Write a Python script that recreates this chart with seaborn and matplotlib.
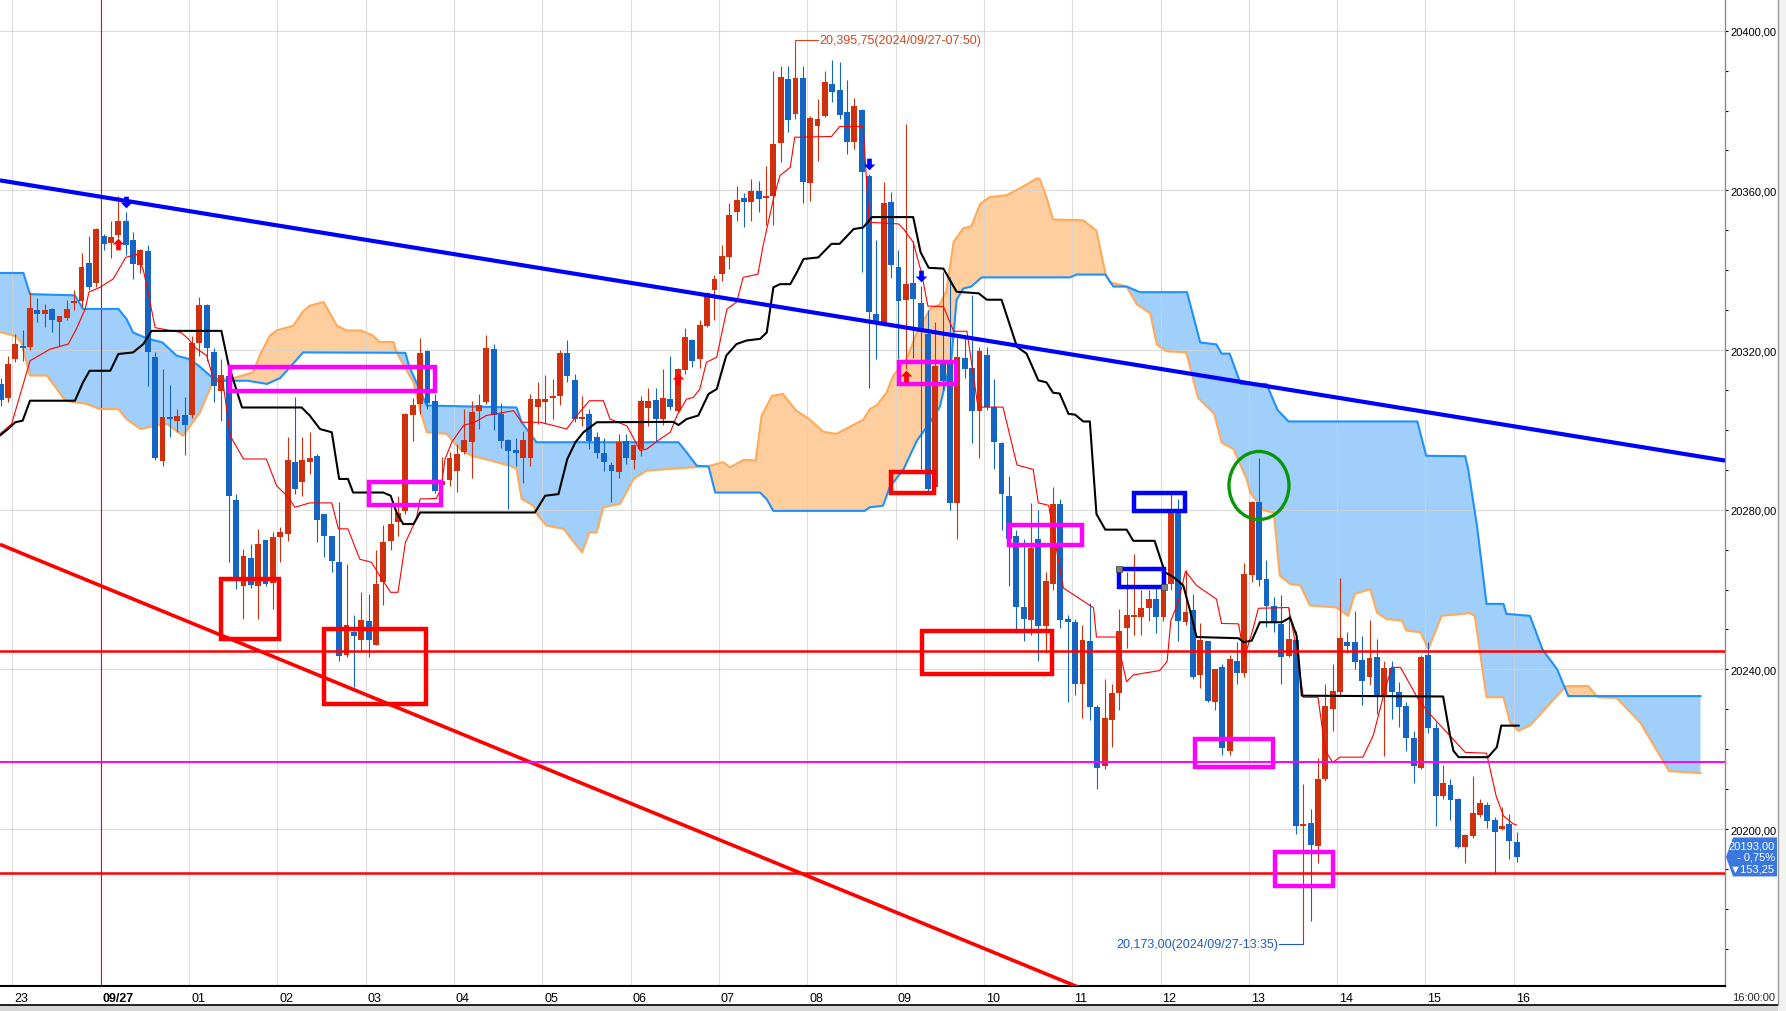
import numpy as np
import matplotlib
matplotlib.use("Agg")
import matplotlib.pyplot as plt
import matplotlib.transforms as mtransforms
from matplotlib.patches import Polygon, Rectangle, Ellipse
from matplotlib.path import Path
import seaborn as sns

# ─────────────────────────────────────────────
# DATA  (5-minute candles, index 0 = 23:00, first candle = index -2)
# ─────────────────────────────────────────────
FIRST_K = -2
OPEN = [
    20311.5, 20308, 20317.7, 20321, 20320.8, 20330, 20329, 20330.3, 20327.1, 20328, 20331.8, 20332.4,
    20341.8, 20336.8, 20348.5, 20346.8, 20348.8, 20352.4, 20347.6, 20341.4, 20344.9, 20318.2,
    20292.3, 20303.2, 20302.1, 20303.6, 20303.7, 20321.8, 20331.3, 20319.4, 20309.8, 20313.6,
    20282.4, 20261, 20267.9, 20261, 20272.3, 20261.6, 20273.2, 20273.9, 20291.9, 20286.9,
    20292, 20293.5, 20278.9, 20273.3, 20266.8, 20243.6, 20249.4, 20247.4, 20252.1, 20246.2,
    20261.8, 20272.2, 20276.8, 20279.7, 20303.6, 20306.5, 20319.7, 20307.3, 20286.2, 20287.5,
    20289.8, 20294.4, 20296.9, 20304.8, 20307.1, 20320.3, 20304, 20297.5, 20295, 20292.9,
    20292.9, 20305.6, 20307.1, 20307.9, 20308.6, 20319.3, 20312.5, 20302.6, 20304, 20298.1,
    20294.2, 20291.3, 20289.5, 20297.1, 20292.5, 20295.2, 20305.4, 20307.5, 20302.6, 20307.7,
    20304.8, 20315.1, 20322.5, 20317.7, 20326.1, 20335.1, 20339.1, 20343.2, 20354.5, 20358,
    20357.2, 20359.9, 20358.2, 20358.5, 20371.8, 20387.9, 20379.1, 20388.1, 20361.9, 20376,
    20378.7, 20386.6, 20385.2, 20379.7, 20372, 20380.2, 20363.7, 20329, 20326.5, 20357,
    20340.7, 20332.6, 20336.9, 20331.9, 20324, 20285.6, 20316.9, 20317.5, 20281.7, 20318,
    20315.5, 20304.8, 20318.8, 20305.7, 20296.8, 20283.4, 20273.3, 20255.6, 20252.3, 20272.7,
    20250.9, 20261.5, 20281.3, 20252.6, 20251.8, 20236.4, 20247, 20230.6, 20215.7, 20227.2,
    20234.1, 20250.4, 20253, 20253, 20255.4, 20257.6, 20253, 20261.5, 20279.4, 20251.8,
    20254.8, 20238.6, 20247, 20231.9, 20240.6, 20219.6, 20242.2, 20239.1, 20263.6, 20282,
    20262.6, 20255.9, 20251.4, 20243.4, 20247.3, 20200.8, 20201.5, 20195.7, 20212.5, 20230.1,
    20234.4, 20246.9, 20246.9, 20242.3, 20238, 20243, 20233.4, 20240.3, 20234.4, 20230.7,
    20222.9, 20215.4, 20243.6, 20225.2, 20208.2, 20211, 20207.5, 20195.4, 20198.2, 20203.6,
    20206, 20202.3, 20200, 20201.3, 20196.7,
]
HIGH = [
    20313, 20318.5, 20324, 20325, 20334.5, 20333, 20331.5, 20330.5, 20328.6, 20332.6, 20335, 20344.3,
    20348.6, 20350.5, 20349.1, 20352.2, 20358.7, 20354.7, 20349.5, 20345.3, 20346.3, 20319.5,
    20315.3, 20311.2, 20305.2, 20308.2, 20323.6, 20333.4, 20331.5, 20320.4, 20317.8, 20314,
    20284, 20270.2, 20271.4, 20275.2, 20272.5, 20274.5, 20275.6, 20298.1, 20308.2, 20298.1,
    20299.4, 20294, 20279, 20273.5, 20282, 20266.4, 20253.6, 20259.5, 20258.9, 20269.9,
    20276.2, 20281.2, 20283.5, 20304.3, 20308.1, 20322.9, 20320, 20309, 20293.1, 20294.4,
    20296.4, 20305.2, 20307.3, 20309, 20323.8, 20321.5, 20306.7, 20297.8, 20297.9, 20299.8,
    20309, 20311.9, 20313.7, 20312.7, 20320.1, 20322.5, 20314, 20308.6, 20305.2, 20299.4,
    20298, 20292, 20299, 20299, 20296.5, 20308.4, 20310.6, 20310.6, 20315.2, 20318.6,
    20315.5, 20325.4, 20322.8, 20327.4, 20334.6, 20338.8, 20346.3, 20356.8, 20361.2, 20359.3,
    20362.8, 20362.4, 20366.2, 20390, 20391.2, 20391.2, 20395.75, 20391.2, 20378.7, 20382.9,
    20390, 20392.7, 20392.2, 20387.7, 20383.1, 20380.5, 20364, 20347.6, 20362, 20359.5,
    20345.1, 20376.6, 20347.4, 20336, 20330, 20327, 20339.5, 20338.2, 20323.6, 20323.8,
    20333.7, 20320.8, 20320.8, 20312.7, 20297, 20288.4, 20275, 20272.7, 20281.7, 20280,
    20264.3, 20285.8, 20282.8, 20253.7, 20252.6, 20251.1, 20256.5, 20231, 20237.5, 20236.4,
    20255.2, 20264.3, 20268.8, 20259.9, 20259.9, 20261, 20262.7, 20283.9, 20282.8, 20264.9,
    20259, 20251.5, 20247.2, 20240.2, 20241.4, 20243.6, 20246.9, 20266.6, 20282.3, 20292.9,
    20267.4, 20258, 20258.6, 20255.3, 20249.7, 20211.3, 20205, 20217.7, 20236.3, 20241.3,
    20263, 20249.4, 20254.7, 20248.4, 20252.4, 20247.6, 20242.2, 20242.2, 20236.9, 20231.7,
    20224.6, 20243.6, 20246.9, 20226.7, 20216, 20212.5, 20207.8, 20198.8, 20213.2, 20207.5,
    20206.7, 20202.9, 20205.4, 20203.8, 20199.2,
]
LOW = [
    20306, 20307, 20317, 20317.3, 20320, 20327, 20325.7, 20324.6, 20321.1, 20327.5, 20330, 20330.7,
    20335, 20335.7, 20345, 20343, 20348, 20343.8, 20337.8, 20339.2, 20310.9, 20292.5,
    20290.9, 20298.3, 20299.4, 20293.7, 20303, 20318.6, 20317.3, 20307.1, 20302.3, 20267,
    20260.1, 20252.6, 20260.5, 20252.6, 20261, 20255.1, 20266.8, 20272.2, 20284, 20283.5,
    20289, 20271.8, 20268.2, 20264.3, 20242.2, 20243, 20235.5, 20244.7, 20243, 20246,
    20256.1, 20270, 20273.5, 20279, 20297.3, 20304, 20305.2, 20284.1, 20285.5, 20286,
    20284.5, 20294, 20287.9, 20300.2, 20306.5, 20300, 20295.4, 20280.2, 20291, 20286.7,
    20291, 20301.4, 20301.4, 20302.7, 20306.2, 20312, 20302, 20301, 20295.2, 20293,
    20289.8, 20281.8, 20288, 20291.5, 20290.2, 20293.5, 20301, 20297.3, 20301.1, 20305,
    20304.5, 20314, 20315.7, 20315.4, 20325.8, 20327.4, 20337.4, 20340.3, 20352.2, 20350.7,
    20352.4, 20354.7, 20351.2, 20351.2, 20367.2, 20374.5, 20378, 20356.8, 20357.4, 20367.4,
    20378.5, 20382.1, 20378, 20369.1, 20370.4, 20339.5, 20310.6, 20317.7, 20326, 20338,
    20317.7, 20315.2, 20318, 20290.2, 20284, 20284, 20310, 20280, 20272.7, 20313,
    20296.8, 20292.9, 20305, 20290.3, 20275, 20261, 20249.2, 20247, 20248.7, 20242.2,
    20244.2, 20260, 20250.4, 20231.9, 20233.6, 20227.7, 20227.4, 20210.1, 20215, 20220.5,
    20229.7, 20245.3, 20248.7, 20248.7, 20252, 20249.2, 20252, 20260, 20247, 20251,
    20237.5, 20235.3, 20231.7, 20229.7, 20218.5, 20218.5, 20236.3, 20238, 20261.8, 20261,
    20250.5, 20249.4, 20236.3, 20243, 20198.7, 20173, 20177, 20191.6, 20212, 20224.6,
    20233, 20244, 20240, 20231.1, 20236, 20228.8, 20218.4, 20227.6, 20225.5, 20219.6,
    20211.5, 20215, 20224, 20200.8, 20207.5, 20202.3, 20195.2, 20191.5, 20197.8, 20203,
    20200.2, 20189, 20199.8, 20192.5, 20191.8,
]
CLOSE = [
    20307.5, 20316.5, 20321.5, 20320.5, 20330.5, 20329, 20330, 20327.4, 20328.4, 20330.3, 20332.2, 20340.7,
    20335.7, 20350.2, 20346.6, 20348.2, 20352.4, 20346.4, 20341.6, 20345.1, 20319.6, 20292.9,
    20303.2, 20302.7, 20303.4, 20301.2, 20321.7, 20331.3, 20320.5, 20310.9, 20313.8, 20283.5,
    20263.1, 20268.5, 20261.1, 20271.4, 20261.4, 20273.1, 20274.3, 20292.5, 20285.2, 20292.5,
    20293, 20277.5, 20273.5, 20267.1, 20243.4, 20251.1, 20248.4, 20252.4, 20247.4, 20261.4,
    20271.8, 20276.4, 20279.1, 20304, 20306.2, 20319.3, 20306.7, 20284.8, 20287.3, 20292.9,
    20293.9, 20297.5, 20304.4, 20306.2, 20320.4, 20303.7, 20297.3, 20294.8, 20294.1, 20297.5,
    20307.7, 20307.7, 20307.7, 20308.4, 20319.3, 20313.6, 20302.6, 20303.3, 20297.3, 20294.2,
    20291.9, 20289.8, 20296.9, 20292.9, 20296.2, 20307.3, 20307.3, 20302.7, 20308.1, 20305.8,
    20315.2, 20323.3, 20317.3, 20326.3, 20334.4, 20337.9, 20343.5, 20353.8, 20357.6, 20357,
    20359.9, 20357.8, 20358.7, 20371.6, 20388.3, 20377.7, 20388.1, 20362.2, 20378.1, 20377.9,
    20387.2, 20384.6, 20378.9, 20372, 20381.2, 20364.7, 20329.4, 20326.9, 20356.8, 20341.3,
    20332.4, 20336.5, 20332.9, 20324.4, 20285.2, 20316, 20312.2, 20281.7, 20318.3, 20315.2,
    20304.6, 20319.7, 20305.7, 20297, 20283.9, 20272.7, 20255.6, 20252.6, 20270.5, 20250.9,
    20262.1, 20281.3, 20252.3, 20251.8, 20236.4, 20247.3, 20230.6, 20215.3, 20227.7, 20234.1,
    20249.6, 20253.7, 20253.7, 20255.4, 20257.6, 20253, 20261.5, 20279.4, 20252, 20254.3,
    20238.1, 20247.3, 20232.1, 20240, 20220.2, 20242.6, 20239.2, 20263.9, 20282, 20262.5,
    20255.9, 20251.6, 20243.2, 20247.6, 20200.7, 20201.2, 20196, 20212.5, 20230.9, 20234.7,
    20247.8, 20245.9, 20241.9, 20237.2, 20242.8, 20233.4, 20240.3, 20234.2, 20230.5, 20222.9,
    20215.7, 20243, 20225.2, 20208.2, 20211.5, 20207.3, 20195.4, 20198.5, 20204, 20206.5,
    20202.1, 20199.3, 20200.8, 20197.1, 20193,
]

HOUR_LABELS = ["23", "09/27", "01", "02", "03", "04", "05", "06", "07", "08",
               "09", "10", "11", "12", "13", "14", "15", "16"]

# ichimoku lines: (candle index, price)
TENKAN = [(-2.08, 20299.0), (-0.5, 20301.5), (2.0, 20317.3), (4.7, 20320.2), (7.2, 20321.5), (8.3, 20325.3),
          (9.5, 20330.3), (10.0, 20334.5), (11.5, 20335.7), (13.3, 20337.8), (15.0, 20343.2), (16.5, 20344.0),
          (17.4, 20340.0), (18.0, 20334.8), (19.0, 20325.6), (22.5, 20324.4), (23.5, 20322.8), (24.5, 20320.5),
          (26.0, 20318.6), (27.0, 20312.2), (28.2, 20312.2), (29.2, 20298.5), (31.0, 20292.7), (34.1, 20292.7),
          (35.5, 20286.0), (37.0, 20283.3), (38.0, 20280.6), (40.0, 20281.7), (43.0, 20281.7), (43.9, 20275.2),
          (45.2, 20275.2), (46.8, 20267.6), (48.4, 20266.8), (49.5, 20263.5), (51.0, 20259.3), (52.0, 20259.3),
          (53.0, 20271.8), (54.5, 20277.7), (55.0, 20282.7), (57.2, 20282.8), (57.8, 20285.0), (58.4, 20292.7),
          (59.3, 20296.9), (60.9, 20301.1), (62.5, 20302.0), (64.0, 20303.6), (67.7, 20304.8), (68.8, 20301.9),
          (71.3, 20301.9), (73.1, 20301.1), (74.9, 20300.2), (76.3, 20303.6), (78.0, 20307.3), (79.9, 20307.3),
          (80.8, 20302.7), (83.1, 20301.0), (84.9, 20294.8), (85.8, 20295.2), (87.6, 20297.7), (89.0, 20299.4),
          (89.9, 20303.6), (91.2, 20307.7), (92.1, 20308.1), (93.0, 20310.2), (93.9, 20316.9), (95.3, 20318.2),
          (96.7, 20330.3), (98.0, 20332.0), (98.9, 20338.2), (100.9, 20339.0), (101.6, 20346.1), (103.0, 20357.8),
          (103.9, 20363.7), (105.3, 20365.8), (105.9, 20373.3), (110.9, 20373.5), (112.0, 20376.0), (115.2, 20376.0),
          (116.0, 20352.0), (120.0, 20351.6), (120.7, 20350.3), (122.0, 20347.0), (123.1, 20339.5), (124.0, 20331.0),
          (126.1, 20330.9), (127.5, 20324.7), (129.3, 20324.7), (130.8, 20305.7), (134.2, 20305.7), (136.1, 20291.2),
          (138.3, 20290.1), (139.0, 20281.7), (140.4, 20281.1), (142.4, 20260.4), (145.1, 20257.1), (146.5, 20255.4),
          (146.9, 20248.1), (149.6, 20248.1), (151.0, 20236.9), (151.9, 20238.6), (155.5, 20239.7), (156.5, 20242.0),
          (157.0, 20252.2), (158.0, 20256.8), (159.0, 20264.6), (160.5, 20261.0), (163.2, 20257.6), (163.9, 20251.5),
          (166.2, 20251.4), (167.0, 20243.0), (168.0, 20249.0), (168.9, 20255.3), (173.0, 20255.5), (174.0, 20245.9),
          (175.0, 20233.0), (177.0, 20233.0), (178.0, 20219.6), (179.0, 20216.7), (180.0, 20218.0), (183.1, 20218.0),
          (184.5, 20223.4), (185.9, 20233.4), (187.0, 20240.5), (188.2, 20240.5), (190.6, 20232.6), (192.0, 20229.2),
          (194.7, 20223.8), (197.0, 20219.2), (199.9, 20219.0), (201.2, 20208.3), (202.2, 20203.3), (203.5, 20201.3),
          (204.0, 20201.0)]
KIJUN = [(-2.08, 20298.6), (-1.0, 20300.2), (0.0, 20301.9), (1.0, 20302.3), (2.0, 20307.3), (8.1, 20307.3),
         (9.2, 20311.9), (10.1, 20314.8), (12.9, 20314.8), (14.0, 20319.0), (16.0, 20319.4), (17.4, 20321.5),
         (18.5, 20324.8), (28.0, 20324.8), (29.0, 20316.1), (30.8, 20305.6), (38.9, 20305.6), (40.0, 20303.6),
         (41.4, 20300.2), (43.0, 20299.4), (44.0, 20287.7), (45.2, 20287.7), (45.9, 20284.3), (50.0, 20284.3),
         (51.0, 20283.5), (51.8, 20279.3), (52.7, 20276.4), (54.1, 20276.4), (55.0, 20279.3), (70.6, 20279.3),
         (72.0, 20283.5), (73.8, 20283.9), (75.0, 20292.7), (76.1, 20296.9), (77.2, 20299.4), (79.0, 20301.9),
         (89.4, 20302.0), (90.1, 20301.2), (91.2, 20302.7), (92.8, 20303.6), (94.2, 20309.0), (95.3, 20310.2),
         (96.6, 20318.6), (98.0, 20321.5), (99.4, 20322.4), (101.2, 20322.8), (102.1, 20324.4), (103.0, 20335.7),
         (103.9, 20336.5), (105.3, 20336.5), (106.2, 20339.5), (107.1, 20342.8), (109.1, 20343.2), (110.9, 20346.6),
         (112.0, 20346.6), (113.9, 20350.3), (115.2, 20350.7), (116.4, 20353.3), (122.0, 20353.3), (123.0, 20344.5),
         (124.1, 20340.6), (126.1, 20340.4), (127.9, 20334.6), (130.9, 20334.2), (132.0, 20332.6), (134.0, 20332.6),
         (136.1, 20320.8), (137.4, 20319.1), (139.0, 20312.4), (140.1, 20311.9), (141.0, 20309.3), (141.9, 20309.1),
         (143.1, 20304.0), (144.0, 20303.8), (145.1, 20302.1), (146.0, 20302.1), (146.9, 20278.9), (148.1, 20275.0),
         (151.0, 20275.0), (151.9, 20272.2), (154.8, 20272.2), (156.2, 20264.3), (157.3, 20263.2), (158.7, 20261.0),
         (159.6, 20254.8), (160.5, 20248.1), (166.2, 20247.8), (166.9, 20246.8), (168.0, 20247.2), (169.1, 20251.8),
         (172.1, 20251.8), (173.2, 20253.0), (174.1, 20248.4), (174.8, 20233.4), (194.0, 20233.2), (194.9, 20223.8),
         (195.4, 20219.6), (196.1, 20218.0), (200.1, 20218.0), (201.3, 20220.5), (201.9, 20225.9), (204.3, 20225.9)]
SPAN_A = [(-2.08, 20324.5), (0.0, 20323.5), (0.8, 20322.0), (2.0, 20313.6), (4.3, 20313.6), (6.8, 20307.3),
          (9.7, 20306.5), (11.5, 20305.2), (14.0, 20305.2), (15.1, 20302.7), (17.0, 20300.2), (19.2, 20301.1),
          (20.6, 20301.5), (22.8, 20298.5), (25.1, 20304.4), (27.0, 20312.7), (29.2, 20312.7), (32.3, 20314.4),
          (33.3, 20319.0), (34.6, 20323.6), (35.5, 20324.9), (37.8, 20326.1), (39.0, 20329.5), (40.0, 20331.1),
          (41.9, 20332.0), (43.7, 20326.1), (45.0, 20324.9), (47.0, 20324.9), (48.6, 20323.6), (49.5, 20322.0),
          (51.4, 20322.0), (51.8, 20319.4), (54.1, 20311.9), (55.0, 20305.0), (55.9, 20299.4), (58.6, 20299.0),
          (60.4, 20295.2), (62.0, 20293.5), (63.8, 20292.7), (65.4, 20291.9), (67.2, 20291.0), (68.1, 20290.2),
          (68.8, 20282.7), (70.4, 20281.0), (71.0, 20278.5), (72.2, 20276.0), (74.5, 20275.2), (75.2, 20273.5),
          (77.0, 20269.3), (78.0, 20274.3), (79.0, 20274.3), (79.9, 20280.6), (82.2, 20281.5), (84.0, 20287.7),
          (85.8, 20289.8), (92.0, 20290.6), (94.4, 20291.0), (96.2, 20291.9), (97.1, 20290.6), (99.0, 20292.5),
          (100.6, 20292.3), (101.4, 20303.5), (102.8, 20308.5), (104.3, 20309.0), (106.0, 20305.0), (108.0, 20302.5),
          (109.8, 20299.5), (111.6, 20299.0), (113.4, 20300.8), (115.2, 20302.5), (116.1, 20305.2), (117.0, 20306.1),
          (118.4, 20309.4), (119.3, 20313.6), (121.1, 20317.7), (122.5, 20324.4), (124.3, 20330.3), (125.6, 20331.4),
          (126.5, 20334.8), (127.5, 20347.1), (128.8, 20350.5), (129.9, 20351.0), (131.1, 20356.6), (132.4, 20358.3),
          (134.7, 20358.8), (136.5, 20360.5), (138.8, 20363.0), (139.2, 20362.8), (140.1, 20358.3), (141.0, 20352.7),
          (145.1, 20352.5), (146.9, 20349.9), (148.1, 20339.3), (148.7, 20337.0), (151.0, 20335.9), (152.4, 20331.4),
          (154.2, 20329.2), (155.1, 20321.4), (156.4, 20319.7), (159.1, 20319.4), (160.7, 20308.0), (162.9, 20304.0),
          (163.9, 20296.8), (165.5, 20295.2), (167.3, 20287.7), (167.8, 20284.3), (169.6, 20279.8), (171.0, 20279.3),
          (171.8, 20263.5), (173.2, 20261.4), (174.6, 20261.0), (175.9, 20256.0), (179.5, 20255.5), (181.1, 20253.4),
          (182.0, 20258.9), (184.1, 20260.1), (185.0, 20254.3), (186.3, 20252.6), (188.4, 20252.2), (189.0, 20249.7),
          (190.9, 20249.3), (192.0, 20245.1), (193.8, 20253.4), (197.6, 20254.1), (198.3, 20253.4), (199.9, 20233.0),
          (202.2, 20233.0), (203.1, 20226.7), (204.2, 20224.6), (205.8, 20225.9), (210.7, 20235.8), (213.7, 20235.8),
          (215.0, 20233.0), (217.6, 20232.8), (220.8, 20226.6), (224.7, 20214.5), (229.0, 20214.0)]
SPAN_B = [(-2.08, 20339.3), (1.1, 20339.3), (2.0, 20334.0), (8.1, 20333.7), (9.2, 20330.3), (14.0, 20330.3),
          (15.1, 20327.8), (16.0, 20324.4), (17.0, 20323.6), (18.1, 20322.8), (20.0, 20321.9), (21.9, 20318.6),
          (23.5, 20317.8), (24.9, 20316.1), (26.7, 20313.2), (28.0, 20312.3), (31.6, 20312.3), (34.2, 20311.5),
          (36.0, 20313.0), (39.1, 20319.4), (53.0, 20319.3), (53.5, 20316.0), (55.9, 20306.1), (68.1, 20305.6),
          (68.8, 20301.9), (70.8, 20296.9), (90.1, 20296.9), (91.2, 20294.4), (92.6, 20291.0), (94.2, 20290.8),
          (95.1, 20284.3), (101.2, 20284.3), (102.1, 20282.6), (103.0, 20279.7), (115.4, 20279.7), (116.1, 20280.6),
          (117.9, 20281.0), (118.8, 20285.6), (120.7, 20290.2), (122.5, 20297.3), (124.3, 20301.9), (125.6, 20305.7),
          (127.2, 20318.0), (127.9, 20332.6), (128.8, 20335.4), (129.9, 20335.9), (131.3, 20338.2), (143.3, 20338.2),
          (144.2, 20338.9), (148.1, 20338.9), (149.2, 20335.9), (151.0, 20335.9), (152.8, 20334.5), (159.2, 20334.5),
          (161.0, 20321.9), (163.2, 20321.4), (163.9, 20319.1), (165.0, 20319.1), (166.5, 20311.5), (170.0, 20311.5),
          (171.5, 20305.0), (173.0, 20302.1), (190.5, 20302.1), (191.7, 20293.5), (197.0, 20293.4), (197.4, 20290.2),
          (198.6, 20276.0), (199.9, 20256.4), (202.2, 20256.4), (202.6, 20253.9), (205.8, 20253.4), (207.5, 20245.0),
          (209.5, 20240.0), (211.0, 20233.3), (229.0, 20233.3)]

# user drawings on the chart
TREND_LINES = [((-2.08, 20362.5), (232.3, 20292.3), "#0000FF", 3.0),
               ((-2.08, 20271.3), (145.6, 20159.5), "#FF0000", 2.6)]
H_LEVELS = [(20244.7, "#FF0000", 1.8), (20216.9, "#FF00FF", 1.4), (20189.0, "#FF0000", 1.8)]
BOXES = [  # k0, k1, p0, p1, colour
    (29.17, 57.02, 20309.74, 20315.75, "#FF00FF"),
    (48.06, 57.84, 20281.17, 20286.93, "#FF00FF"),
    (27.95, 35.83, 20247.6, 20262.63, "#FF0000"),
    (41.94, 55.80, 20231.3, 20250.1, "#FF0000"),
    (120.07, 127.81, 20311.49, 20317.0, "#FF00FF"),
    (118.98, 124.82, 20284.18, 20289.44, "#FF0000"),
    (135.01, 144.93, 20271.15, 20276.16, "#FF00FF"),
    (123.19, 140.85, 20238.83, 20249.6, "#FF0000"),
    (151.99, 158.92, 20279.67, 20284.18, "#0000FF"),
    (149.96, 156.07, 20260.63, 20265.14, "#0000FF"),
    (160.3, 170.9, 20215.53, 20222.55, "#FF00FF"),
    (171.16, 179.04, 20185.8, 20194.3, "#FF00FF"),
]
CIRCLE = (168.98, 20286.06, 8.15, 17.04)
SIGNALS = [(14, 20346.5, "buy"), (15, 20357.2, "sell"), (90, 20312.8, "buy"),
           (116, 20366.7, "sell"), (121, 20313.5, "buy"), (123, 20338.5, "sell")]
PRICE_TAG = ["20193,00", "- 0,75%", "\u25bc153,25"]
DATE = "2024/09/27"

# ─────────────────────────────────────────────
# STYLE / LAYOUT
# ─────────────────────────────────────────────
W, H, DPI = 1786, 1012, 100
PLOT_R, PLOT_B = 1725, 987            # plot area edges in pixels
X_LEFT, X_RIGHT = -2.08, 232.3
Y_BOTTOM, Y_TOP = 20160.67, 20407.94
PX_PER_K = PLOT_R / (X_RIGHT - X_LEFT)
PX_PER_P = PLOT_B / (Y_TOP - Y_BOTTOM)

UP_C, DOWN_C = "#D0300E", "#1565C4"
CLOUD_BLUE, CLOUD_ORANGE = "#9FCFFA", "#FFCE9E"
SPAN_A_C, SPAN_B_C = "#FFAA5A", "#1E90FF"

sns.set_style("white")
plt.rcParams["font.family"] = ["Liberation Sans", "DejaVu Sans"]

fig = plt.figure(figsize=(W / DPI, H / DPI), dpi=DPI, facecolor="white")
ax = fig.add_axes([0, (H - PLOT_B) / H, PLOT_R / W, PLOT_B / H])
ax.set_xlim(X_LEFT, X_RIGHT)
ax.set_ylim(Y_BOTTOM, Y_TOP)
ax.set_facecolor("white")

# ---- cloud (fill between span A and span B by clipping) ----
lo, hi = Y_BOTTOM - 50, Y_TOP + 50
def region(pts, edge):
    return [(pts[0][0], edge)] + list(pts) + [(pts[-1][0], edge)]

orange = Polygon(region(SPAN_A, lo), closed=True, facecolor=CLOUD_ORANGE, edgecolor="none", zorder=1)
ax.add_patch(orange)
orange.set_clip_path(Polygon(region(SPAN_B, hi), closed=True, transform=ax.transData))
blue = Polygon(region(SPAN_B, lo), closed=True, facecolor=CLOUD_BLUE, edgecolor="none", zorder=1)
ax.add_patch(blue)
blue.set_clip_path(Polygon(region(SPAN_A, hi), closed=True, transform=ax.transData))

# ---- grid ----
tick_k = [12 * i - 0.4 for i in range(len(HOUR_LABELS))]
y_major = np.arange(20200, 20401, 40)
for tk in tick_k:
    ax.axvline(tk, color="#D2D2D2", lw=0.8, alpha=0.8, zorder=1.2)
for yv in y_major:
    ax.axhline(yv, color="#D2D2D2", lw=0.8, alpha=0.8, zorder=1.2)
ax.axvline(tick_k[1], color="#FF0000", lw=0.8, zorder=1.3)

for pts, col in [(SPAN_A, SPAN_A_C), (SPAN_B, SPAN_B_C)]:
    sns.lineplot(x=[p[0] for p in pts], y=[p[1] for p in pts], ax=ax, color=col, lw=1.5,
                 sort=False, estimator=None, legend=False, zorder=1.5)

# ---- candles ----
k = np.arange(FIRST_K, FIRST_K + len(OPEN))
o, h, l, c = (np.array(a, dtype=float) for a in (OPEN, HIGH, LOW, CLOSE))
cols = np.where(c >= o, UP_C, DOWN_C)
ax.vlines(k, l, h, colors=cols, lw=0.8, zorder=3)
ax.bar(k, np.maximum(np.abs(c - o), 0.3), bottom=np.minimum(o, c), width=0.8,
       color=cols, linewidth=0, zorder=3.5)

# ---- conversion / base lines ----
sns.lineplot(x=[p[0] for p in TENKAN], y=[p[1] for p in TENKAN], ax=ax, color="#FF0000", lw=0.8,
             sort=False, estimator=None, legend=False, zorder=4)
sns.lineplot(x=[p[0] for p in KIJUN], y=[p[1] for p in KIJUN], ax=ax, color="black", lw=1.5,
             sort=False, estimator=None, legend=False, zorder=4)

# ---- drawings ----
for (x0, y0), (x1, y1), col, lw in TREND_LINES:
    ax.plot([x0, x1], [y0, y1], color=col, lw=lw, zorder=5, solid_capstyle="butt")
for yv, col, lw in H_LEVELS:
    ax.axhline(yv, color=col, lw=lw, zorder=5)
for k0, k1, p0, p1, col in BOXES:
    ax.add_patch(Rectangle((k0, p0), k1 - k0, p1 - p0, fill=False, edgecolor=col, lw=3.2, zorder=6))
# selection handles on one of the blue boxes
bx = BOXES[9]
ax.scatter([bx[0], bx[1]], [bx[3], bx[2]], marker="s", s=14, color="#808080",
           edgecolors="#404040", linewidths=0.5, zorder=7)
ax.add_patch(Ellipse((CIRCLE[0], CIRCLE[1]), CIRCLE[2], CIRCLE[3], fill=False,
                     edgecolor="#0A960A", lw=2.4, zorder=6))

arrow_up = Path([(0, 1), (-1, 0), (-0.4, 0), (-0.4, -1), (0.4, -1), (0.4, 0), (1, 0), (0, 1)])
arrow_dn = Path([(0, -1), (-1, 0), (-0.4, 0), (-0.4, 1), (0.4, 1), (0.4, 0), (1, 0), (0, -1)])
for sk, sp, kind in SIGNALS:
    ax.scatter([sk], [sp], marker=arrow_up if kind == "buy" else arrow_dn, s=70,
               color="#FF0000" if kind == "buy" else "#0000FF", linewidths=0, zorder=6)

# ---- high / low labels ----
def fmt(v):
    return f"{v:,.2f}"[:-3] + "," + f"{v:.2f}"[-2:]

ih, il = int(np.argmax(h)), int(np.argmin(l))
kh, vh = k[ih], h[ih]
kl, vl = k[il], l[il]
hy = vh + 8 / PX_PER_P
hx = kh + 23 / PX_PER_K
ax.plot([kh, kh, hx], [vh, hy, hy], color="#D2461E", lw=0.8, zorder=7)
ax.text(hx + 0.1, hy, f"{fmt(vh)}({DATE}-07:50)", color="#D2461E", fontsize=9,
        ha="left", va="center", zorder=7)
ly = vl - 7 / PX_PER_P
lx = kl - 24 / PX_PER_K
ax.plot([kl, kl, lx], [vl, ly, ly], color="#1E5AC8", lw=0.8, zorder=7)
ax.text(lx - 0.1, ly, f"{fmt(vl)}({DATE}-13:35)", color="#1E5AC8", fontsize=9,
        ha="right", va="center", zorder=7)

# ---- axes ----
for side in ["left", "top"]:
    ax.spines[side].set_visible(False)
ax.spines["bottom"].set_color("black")
ax.spines["bottom"].set_linewidth(1.5)
ax.spines["right"].set_color("#8C8C8C")
ax.spines["right"].set_linewidth(1.0)

ax.yaxis.tick_right()
ax.set_yticks(y_major)
ax.set_yticklabels([f"{v:.2f}".replace(".", ",") for v in y_major])
ax.set_yticks(np.arange(20170, 20401, 10), minor=True)
ax.tick_params(axis="y", which="both", direction="out", length=2.5, width=0.8,
               pad=1.2, labelsize=8, colors="black")

ax.set_xticks(tick_k)
ax.set_xticklabels(HOUR_LABELS, ha="left", fontsize=9)
ax.tick_params(axis="x", direction="out", length=6, width=0.8, pad=-1.5, colors="black")
shift = mtransforms.ScaledTranslation(2 / DPI, 0, fig.dpi_scale_trans)
for lbl in ax.get_xticklabels():
    lbl.set_transform(lbl.get_transform() + shift)
    if lbl.get_text() == "09/27":
        lbl.set_fontweight("bold")
ax.set_xlabel("")
ax.set_ylabel("")

# ---- outside decorations (figure pixels) ----
def fp(x, y):
    return (x / W, 1 - y / H)

fig.text(*fp(1775, 998), "16:00:00", ha="right", va="center", fontsize=8)
fig.patches.append(Rectangle(fp(0, 1012), 1, 6 / H, transform=fig.transFigure,
                             facecolor="#D6D6D6", edgecolor="none", zorder=0))
fig.lines.append(plt.Line2D([0, 1778 / W], [1 - 1006 / H] * 2, transform=fig.transFigure,
                            color="black", lw=1.2))
fig.patches.append(Rectangle(fp(1778, 1012), 8 / W, 1, transform=fig.transFigure,
                             facecolor="#F2F2F2", edgecolor="none", zorder=0))
fig.lines.append(plt.Line2D([1777.5 / W] * 2, [1 - 1006 / H, 1], transform=fig.transFigure,
                            color="#9A9A9A", lw=1.0))

yc = (Y_TOP - c[-1]) * PX_PER_P
tag = [fp(1726, yc), fp(1733, yc - 19.5), fp(1777, yc - 19.5), fp(1777, yc + 19.5), fp(1733, yc + 19.5)]
fig.patches.append(Polygon(tag, closed=True, transform=fig.transFigure,
                           facecolor="#3A78E0", edgecolor="none", zorder=5))
for i, s in enumerate(PRICE_TAG):
    fig.text(*fp(1775, yc - 11.5 + 11.5 * i), s, ha="right", va="center", fontsize=8,
             color="white", zorder=6)

fig.savefig("out.png", dpi=DPI, facecolor="white")
